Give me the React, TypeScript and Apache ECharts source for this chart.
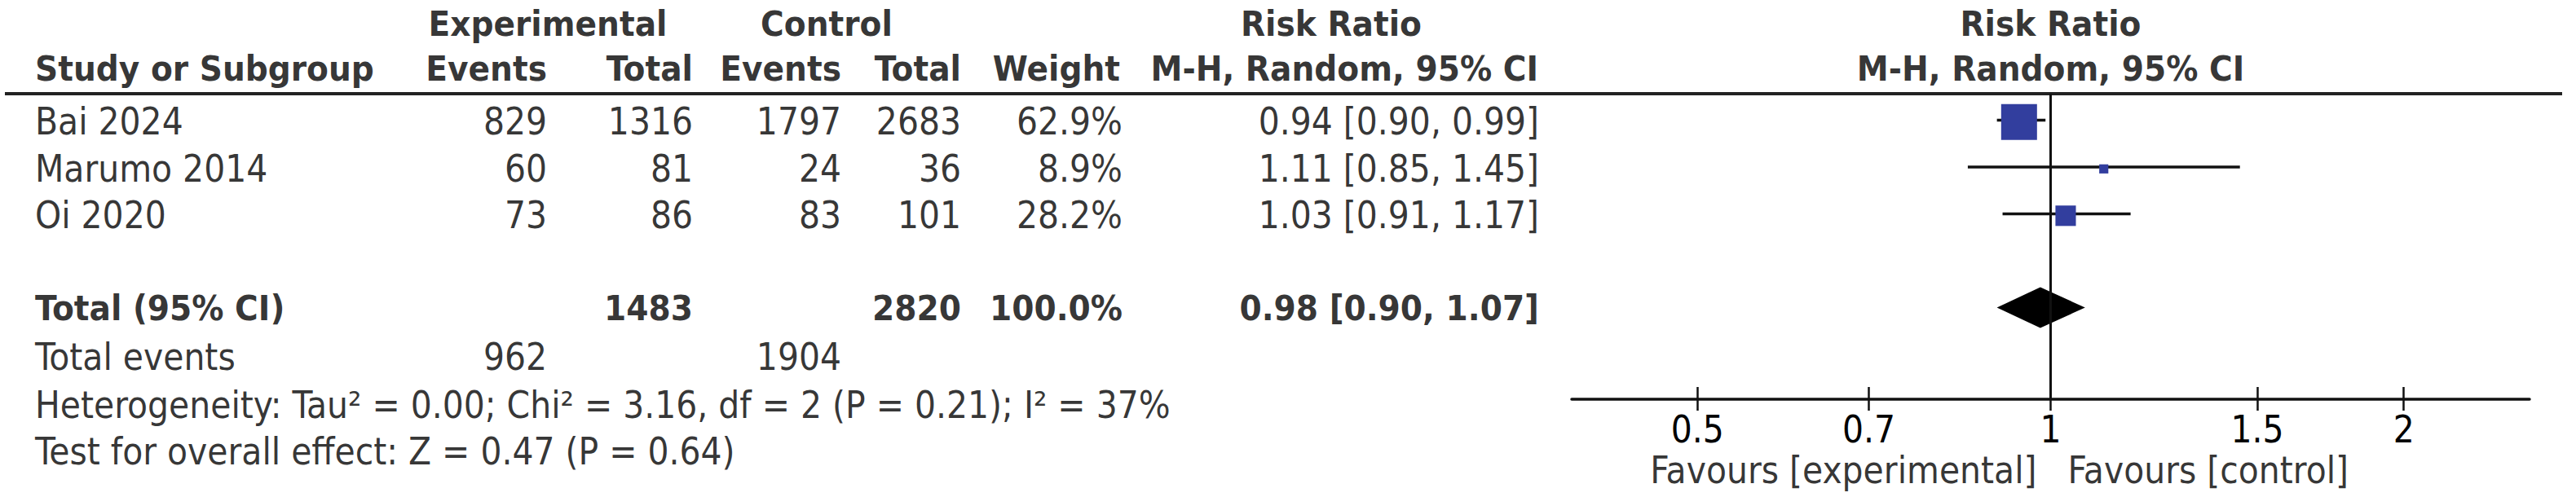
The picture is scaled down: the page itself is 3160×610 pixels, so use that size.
import { useEffect, useRef } from "react";
import * as echarts from "echarts";

// study data
const studies = ["Bai 2024", "Marumo 2014", "Oi 2020"];
const expEvents = [829, 60, 73];
const expTotal = [1316, 81, 86];
const ctrlEvents = [1797, 24, 83];
const ctrlTotal = [2683, 36, 101];
const weights = [62.9, 8.9, 28.2];
const rr = [0.94, 1.11, 1.03];
const rrLow = [0.9, 0.85, 0.91];
const rrHigh = [0.99, 1.45, 1.17];

// pooled result: estimate, lower, upper
const pooledRR = [0.98, 0.9, 1.07];
const totalN = [1483, 2820];
const totalEvents = [962, 1904];
const totalWeight = 100.0;

const heterogeneity = "Heterogeneity: Tau² = 0.00; Chi² = 3.16, df = 2 (P = 0.21); I² = 37%";
const overallTest = "Test for overall effect: Z = 0.47 (P = 0.64)";

const tickValues = [0.5, 0.7, 1, 1.5, 2];
const tickLabels = ["0.5", "0.7", "1", "1.5", "2"];

// layout
const W = 3160;
const H = 610;
const ROW_H = 57.5;
const ROW0 = 90;
const Y_MIN = -ROW0 / ROW_H;
const PLOT_BOTTOM = 490;
const Y_MAX_PLOT = (PLOT_BOTTOM - ROW0) / ROW_H;
const Y_MAX_FULL = (H - ROW0) / ROW_H;
const PLOT_LEFT = 1928;
const PLOT_W = 1175;
const LN_EXT = 0.94;
const PLOT_MID = PLOT_LEFT + PLOT_W / 2;
const RULE_ROW = (115 - ROW0) / ROW_H;

const FONT = "'DejaVu Sans Condensed', 'DejaVu Sans'";
const FS = 45.5;
const FS_BOLD = 43.5;
const BLUE = "#323e9e";

const col = {
  study: 43,
  expEv: 671,
  expTot: 850,
  ctrlEv: 1032,
  ctrlTot: 1179,
  weight: 1377,
  ci: 1888,
  expHead: 672,
  ctrlHead: 1014,
  rrHead: 1633,
};

const fmtCI = (e: number, l: number, h: number) =>
  `${e.toFixed(2)} [${l.toFixed(2)}, ${h.toFixed(2)}]`;

type Cell = [number, number, string, "left" | "right" | "center"];

const App = () => {
  const ref = useRef<HTMLDivElement>(null);

  useEffect(() => {
    if (!ref.current) return;
    const chart = echarts.init(ref.current, null, { renderer: "svg" });

    const studyRows = studies.map((_, i) => i + 1);
    const totalRow = studies.length + 2;

    const boldCells: Cell[] = [
      [col.expHead, -1.06, "Experimental", "center"],
      [col.ctrlHead, -1.06, "Control", "center"],
      [col.rrHead, -1.06, "Risk Ratio", "center"],
      [PLOT_MID, -1.06, "Risk Ratio", "center"],
      [col.study, -0.1, "Study or Subgroup", "left"],
      [col.expEv, -0.1, "Events", "right"],
      [col.expTot, -0.1, "Total", "right"],
      [col.ctrlEv, -0.1, "Events", "right"],
      [col.ctrlTot, -0.1, "Total", "right"],
      [col.weight - 3, -0.1, "Weight", "right"],
      [col.ci - 1, -0.1, "M-H, Random, 95% CI", "right"],
      [PLOT_MID, -0.1, "M-H, Random, 95% CI", "center"],
      [col.study, totalRow, "Total (95% CI)", "left"],
      [col.expTot, totalRow, String(totalN[0]), "right"],
      [col.ctrlTot, totalRow, String(totalN[1]), "right"],
      [col.weight, totalRow, `${totalWeight.toFixed(1)}%`, "right"],
      [col.ci, totalRow, fmtCI(pooledRR[0], pooledRR[1], pooledRR[2]), "right"],
    ];

    const regularCells: Cell[] = [];
    studies.forEach((s, i) => {
      const r = studyRows[i] + 0.04;
      regularCells.push([col.study, r, s, "left"]);
      regularCells.push([col.expEv, r, String(expEvents[i]), "right"]);
      regularCells.push([col.expTot, r, String(expTotal[i]), "right"]);
      regularCells.push([col.ctrlEv, r, String(ctrlEvents[i]), "right"]);
      regularCells.push([col.ctrlTot, r, String(ctrlTotal[i]), "right"]);
      regularCells.push([col.weight, r, `${weights[i].toFixed(1)}%`, "right"]);
      regularCells.push([col.ci, r, fmtCI(rr[i], rrLow[i], rrHigh[i]), "right"]);
    });
    regularCells.push([col.study, 6.06, "Total events", "left"]);
    regularCells.push([col.expEv, 6.06, String(totalEvents[0]), "right"]);
    regularCells.push([col.ctrlEv, 6.06, String(totalEvents[1]), "right"]);
    regularCells.push([col.study, 7.08, heterogeneity, "left"]);
    regularCells.push([col.study, 8.07, overallTest, "left"]);

    const textSeries = (cells: Cell[], bold: boolean) => ({
      type: "scatter" as const,
      xAxisIndex: 0,
      yAxisIndex: 0,
      symbolSize: 0,
      silent: true,
      clip: false,
      data: cells.map(([x, y, t, a]) => ({
        value: [x, y],
        label: {
          show: true,
          position: "inside",
          align: a,
          verticalAlign: "middle",
          formatter: t,
          color: "#000",
          fontFamily: FONT,
          fontSize: bold ? FS_BOLD : FS,
          fontWeight: bold ? "bold" : "normal",
          lineHeight: 46,
        },
      })),
    });

    const lnTicks = tickValues.map((v) => Math.log(v));
    const sizeOf = (w: number) => 44 * Math.pow(w / Math.max(...weights), 0.7);
    const favRow = (577 - ROW0) / ROW_H;
    const diamondHalf = 25 / ROW_H;

    const favLabel = (text: string, align: string, dx: number) => ({
      value: [0, favRow],
      label: {
        show: true,
        position: "inside",
        align,
        verticalAlign: "middle",
        offset: [dx, 0],
        formatter: text,
        color: "#000",
        fontFamily: FONT,
        fontSize: FS,
        lineHeight: 40,
      },
    });

    const option: echarts.EChartsOption = {
      animation: false,
      backgroundColor: "#fff",
      grid: [
        { left: 0, top: 0, width: W, height: H, outerBoundsMode: "none" } as any,
        { left: PLOT_LEFT, top: 0, width: PLOT_W, height: PLOT_BOTTOM, outerBoundsMode: "none" } as any,
      ],
      xAxis: [
        { gridIndex: 0, type: "value", min: 0, max: W, show: false },
        {
          gridIndex: 1,
          type: "value",
          min: -LN_EXT,
          max: LN_EXT,
          position: "bottom",
          splitLine: { show: false },
          axisLine: { show: true, onZero: false, lineStyle: { color: "#111", width: 3.5 } },
          axisTick: {
            show: true,
            customValues: lnTicks,
            length: 14,
            lineStyle: { color: "#111", width: 2.5 },
          } as any,
          axisLabel: {
            customValues: lnTicks,
            margin: 37,
            verticalAlign: "middle",
            lineHeight: 40,
            color: "#000",
            fontFamily: FONT,
            fontSize: FS,
            formatter: (v: number) => {
              const i = lnTicks.findIndex((t) => Math.abs(t - v) < 1e-6);
              return i >= 0 ? tickLabels[i] : "";
            },
          } as any,
        },
        {
          gridIndex: 1,
          type: "value",
          min: -LN_EXT,
          max: LN_EXT,
          position: "bottom",
          splitLine: { show: false },
          axisLine: { show: false, onZero: false },
          axisTick: {
            show: true,
            inside: true,
            customValues: lnTicks,
            length: 15,
            lineStyle: { color: "#111", width: 2.5 },
          } as any,
          axisLabel: { show: false },
        },
      ],
      yAxis: [
        { gridIndex: 0, type: "value", min: Y_MIN, max: Y_MAX_FULL, inverse: true, show: false },
        { gridIndex: 1, type: "value", min: Y_MIN, max: Y_MAX_PLOT, inverse: true, show: false },
      ],
      series: [
        // header rule
        {
          type: "line",
          xAxisIndex: 0,
          yAxisIndex: 0,
          symbol: "none",
          silent: true,
          data: [
            [6, RULE_ROW],
            [3143, RULE_ROW],
          ],
          lineStyle: { color: "#222", width: 4 },
        },
        // line of no effect
        {
          type: "line",
          xAxisIndex: 1,
          yAxisIndex: 1,
          symbol: "none",
          silent: true,
          data: [
            [0, RULE_ROW],
            [0, Y_MAX_PLOT],
          ],
          lineStyle: { color: "#111", width: 3 },
        },
        // confidence intervals
        {
          type: "custom",
          xAxisIndex: 1,
          yAxisIndex: 1,
          silent: true,
          data: studies.map((_, i) => [Math.log(rrLow[i]), Math.log(rrHigh[i]), studyRows[i]]),
          renderItem: (_p: any, api: any) => {
            const a = api.coord([api.value(0), api.value(2)]);
            const b = api.coord([api.value(1), api.value(2)]);
            return {
              type: "line",
              shape: { x1: a[0], y1: a[1], x2: b[0], y2: b[1] },
              style: { stroke: "#111", lineWidth: 3.5 },
            };
          },
        } as any,
        // study estimates
        {
          type: "scatter",
          xAxisIndex: 1,
          yAxisIndex: 1,
          symbol: "rect",
          silent: true,
          data: studies.map((_, i) => ({
            value: [Math.log(rr[i]), studyRows[i] + 0.04],
            symbolSize: sizeOf(weights[i]),
          })),
          itemStyle: { color: BLUE, opacity: 1 },
        },
        // pooled diamond
        {
          type: "custom",
          xAxisIndex: 1,
          yAxisIndex: 1,
          silent: true,
          data: [[Math.log(pooledRR[0]), Math.log(pooledRR[1]), Math.log(pooledRR[2]), totalRow]],
          renderItem: (_p: any, api: any) => {
            const r = api.value(3);
            const pts = [
              api.coord([api.value(1), r]),
              api.coord([api.value(0), r - diamondHalf]),
              api.coord([api.value(2), r]),
              api.coord([api.value(0), r + diamondHalf]),
            ];
            return { type: "polygon", shape: { points: pts }, style: { fill: "#000" } };
          },
        } as any,
        // favours labels
        {
          type: "scatter",
          xAxisIndex: 1,
          yAxisIndex: 1,
          symbolSize: 0,
          silent: true,
          clip: false,
          data: [
            favLabel("Favours [experimental]", "right", -17),
            favLabel("Favours [control]", "left", 21),
          ],
        } as any,
        textSeries(boldCells, true) as any,
        textSeries(regularCells, false) as any,
      ],
    };

    chart.setOption(option);
    return () => chart.dispose();
  }, []);

  return (
    <div
      ref={ref}
      style={{ position: "fixed", left: 0, top: 0, width: W, height: H, background: "#fff" }}
    />
  );
};

export default App;
